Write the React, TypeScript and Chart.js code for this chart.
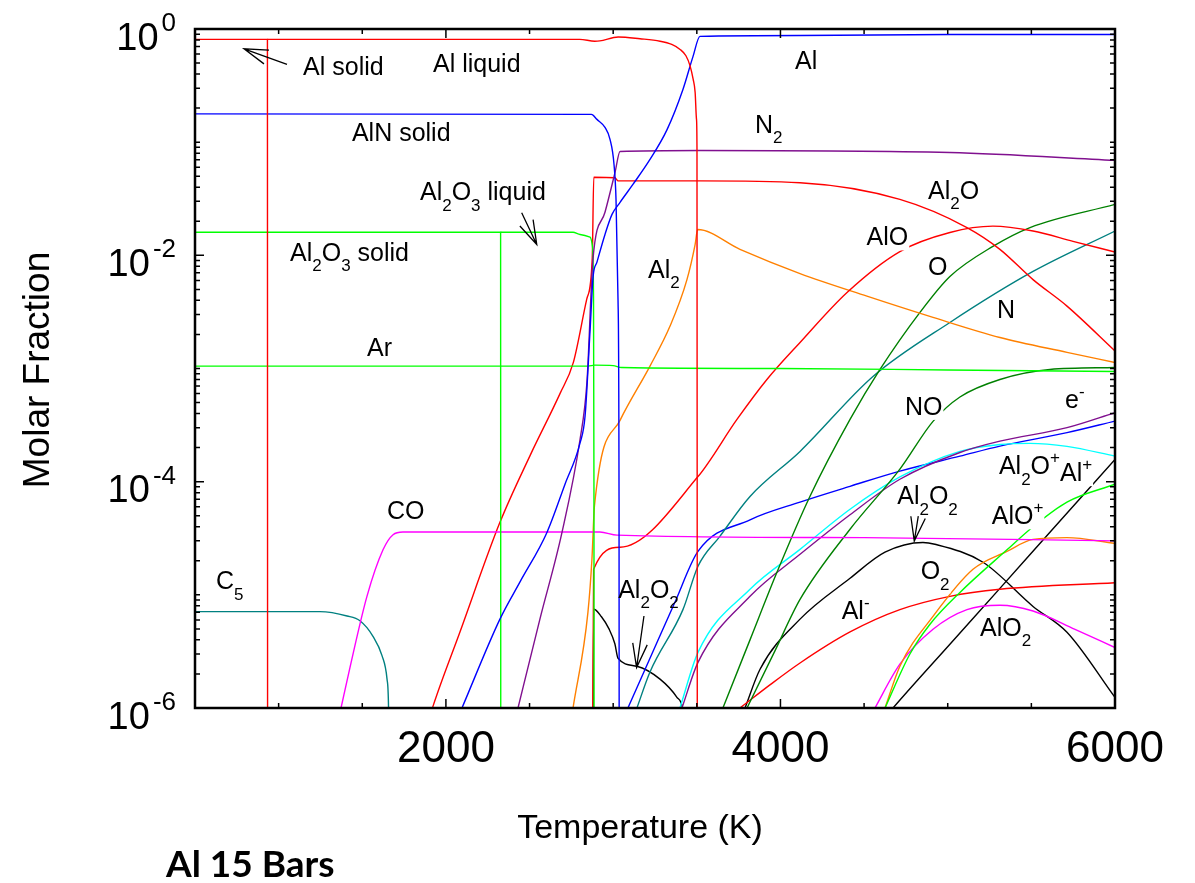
import React, { useEffect, useRef } from 'react';
import { Chart, registerables } from 'chart.js';

Chart.register(...registerables);

type Pt = [number, number];

// ---------- axes ----------
const X_MIN = 500;
const X_MAX = 6000;
const Y_MIN = 1e-6;
const Y_MAX = 1;
const X_TICKS = [500, 1000, 1500, 2000, 2500, 3000, 3500, 4000, 4500, 5000, 5500, 6000];
const X_TICK_LABELS = [2000, 4000, 6000];
const Y_DECADES = [-6, -5, -4, -3, -2, -1, 0];
const Y_TICK_LABEL_EXPONENTS = [0, -2, -4, -6];

// ---------- colours ----------
const RED = '#ff0000';
const BLUE = '#0000ff';
const GREEN = '#00ff00';
const PURPLE = '#80108f';
const DKGREEN = '#008000';
const TEAL = '#008080';
const ORANGE = '#ff8000';
const MAGENTA = '#ff00ff';
const CYAN = '#00ffff';
const BLACK = '#000000';

// ---------- data (Temperature K, molar fraction) ----------
const AL_SOLID: Pt[] = [[500, 0.81], [933, 0.81], [934, 1e-7]];
const AL_LIQUID: Pt[] = [[933, 0.81], [2800, 0.81], [2890, 0.78], [2920, 0.785], [3030, 0.85], [3160, 0.82], [3280, 0.78], [3350, 0.73], [3400, 0.66], [3435, 0.58], [3460, 0.47], [3478, 0.36], [3490, 0.275], [3498, 0.16], [3501, 0.086], [3503, 1e-7]];
const ALN_SOLID: Pt[] = [[500, 0.178], [2870, 0.176], [2903, 0.159], [2951, 0.135], [2981, 0.106], [3005, 0.0635], [3017, 0.031], [3029, 4e-3], [3035, 7e-5], [3036, 1e-7]];
const AL_GAS: Pt[] = [[2060, 7.5e-7], [2096, 1e-6], [2323, 6.1e-6], [2443, 1.3e-5], [2604, 3.56e-5], [2712, 9.5e-5], [2802, 2.2e-4], [2832, 3.8e-4], [2862, 2.2e-3], [2880, 6.5e-3], [2903, 8.7e-3], [2951, 0.0153], [2993, 0.023], [3041, 0.0294], [3118, 0.0423], [3220, 0.0703], [3322, 0.129], [3417, 0.292], [3477, 0.57], [3519, 0.86], [4117, 0.876], [5013, 0.894], [6000, 0.894]];
const N2: Pt[] = [[2400, 6.5e-7], [2431, 1e-6], [2562, 6.1e-6], [2694, 3.56e-5], [2802, 2.37e-4], [2843, 7.5e-4], [2879, 9.2e-3], [2951, 0.024], [3011, 0.054], [3041, 0.0828], [3519, 0.0845], [5013, 0.081], [6000, 0.069]];
const AL2O3_SOLID: Pt[] = [[500, 0.016], [2327, 0.016], [2328, 1e-7]];
const AL2O3_LIQUID: Pt[] = [[2327, 0.016], [2760, 0.016], [2802, 0.0153], [2862, 0.0145], [2876, 0.012], [2882, 5e-3], [2885, 1e-4], [2886, 1e-7]];
const AR: Pt[] = [[500, 1.05e-3], [2850, 1.05e-3], [2890, 1.07e-3], [3000, 1.06e-3], [3050, 1.02e-3], [4000, 1.0e-3], [5000, 0.97e-3], [6000, 0.94e-3]];
const CO: Pt[] = [[1340, 6e-7], [1373, 1e-6], [1427, 2.3e-6], [1528, 9.7e-6], [1624, 2.5e-5], [1684, 3.4e-5], [1743, 3.59e-5], [2921, 3.59e-5], [3023, 3.37e-5], [4500, 3.2e-5], [6000, 3.0e-5]];
const C5: Pt[] = [[500, 7.1e-6], [1247, 7.1e-6], [1409, 6.5e-6], [1486, 5.9e-6], [1564, 4.3e-6], [1618, 2.9e-6], [1648, 1.8e-6], [1657, 1.01e-6], [1663, 1e-7]];
const AL2O: Pt[] = [[1900, 8e-7], [1924, 1.05e-6], [2084, 4.7e-6], [2323, 4.37e-5], [2503, 1.7e-4], [2682, 6.0e-4], [2761, 1.12e-3], [2842, 4.1e-3], [2875, 9.5e-3], [2884, 0.049], [3010, 0.0485], [3030, 0.0455], [3519, 0.0455], [4117, 0.0438], [4714, 0.0312], [5115, 0.0176], [5312, 0.0113], [5510, 6.1e-3], [5713, 3.56e-3], [6000, 1.43e-3]];
const ALO: Pt[] = [[2875, 1e-7], [2883, 1.68e-5], [3041, 2.63e-5], [3507, 1.11e-4], [3740, 3.55e-4], [3919, 8.0e-4], [4117, 1.7e-3], [4398, 4.7e-3], [4714, 0.0108], [5013, 0.0159], [5270, 0.0181], [5510, 0.0164], [5749, 0.0133], [6000, 0.0107]];
const AL2: Pt[] = [[2750, 8e-7], [2760, 1e-6], [2849, 7e-6], [2873, 2.06e-5], [2888, 6.1e-5], [3041, 3.48e-4], [3220, 1.05e-3], [3340, 2.37e-3], [3441, 6.1e-3], [3490, 0.0125], [3505, 0.0169], [3758, 0.0113], [4117, 6.9e-3], [4517, 4.36e-3], [4912, 2.83e-3], [5312, 1.88e-3], [5713, 1.39e-3], [6000, 1.13e-3]];
const O: Pt[] = [[3640, 8.7e-7], [3656, 1e-6], [3818, 4.0e-6], [3979, 1.58e-5], [4176, 7.4e-5], [4416, 3.55e-4], [4595, 9.8e-4], [4834, 3.13e-3], [5013, 6.5e-3], [5270, 0.012], [5492, 0.0176], [6000, 0.0282]];
const NO: Pt[] = [[3780, 8.7e-7], [3800, 1e-6], [3967, 3.2e-6], [4117, 9.1e-6], [4416, 3.8e-5], [4714, 1.29e-4], [4912, 3.41e-4], [5073, 5.6e-4], [5312, 8.0e-4], [5611, 9.8e-4], [6000, 1.02e-3]];
const N: Pt[] = [[3120, 8.1e-7], [3142, 1e-6], [3220, 2.08e-6], [3417, 7.4e-6], [3507, 1.79e-5], [3638, 3.29e-5], [3818, 7.4e-5], [4117, 1.85e-4], [4553, 8.5e-4], [5013, 2.55e-3], [5510, 7.2e-3], [6000, 0.0164]];
const E_MINUS: Pt[] = [[3400, 9e-7], [3411, 1e-6], [3507, 2.53e-6], [3818, 9.7e-6], [4117, 2.28e-5], [4416, 5.1e-5], [4714, 1.05e-4], [5073, 1.81e-4], [5312, 2.28e-4], [5713, 3.0e-4], [6000, 4.07e-4]];
const AL2O_PLUS: Pt[] = [[3390, 9.1e-7], [3399, 1e-6], [3507, 3.1e-6], [3818, 1.12e-5], [4117, 2.52e-5], [4416, 5.7e-5], [4714, 1.1e-4], [5073, 1.85e-4], [5312, 2.13e-4], [5492, 2.18e-4], [5713, 2.05e-4], [6000, 1.68e-4]];
const BLUE_ION: Pt[] = [[3070, 8.7e-7], [3088, 1e-6], [3220, 2.75e-6], [3369, 8.6e-6], [3507, 2.42e-5], [3818, 4.6e-5], [4117, 6.6e-5], [4416, 9.1e-5], [4714, 1.24e-4], [5073, 1.68e-4], [5312, 2.06e-4], [5713, 2.71e-4], [6000, 3.43e-4]];
const ALO_PLUS: Pt[] = [[4600, 8.3e-7], [4625, 1e-6], [4774, 3.0e-6], [4894, 5.5e-6], [5073, 1.05e-5], [5354, 2.5e-5], [5510, 4.0e-5], [5713, 6.6e-5], [6000, 9.5e-5]];
const O2: Pt[] = [[4610, 8.7e-7], [4625, 1e-6], [4714, 2.34e-6], [4912, 6.45e-6], [5151, 1.68e-5], [5354, 2.42e-5], [5510, 3.09e-5], [5713, 3.2e-5], [6000, 2.85e-5]];
const ALO2: Pt[] = [[4550, 9.1e-7], [4565, 1e-6], [4714, 2.44e-6], [4912, 4.96e-6], [5115, 7.4e-6], [5312, 8.1e-6], [5510, 7.2e-6], [5761, 4.96e-6], [6000, 3.42e-6]];
const AL_MINUS: Pt[] = [[3730, 9.3e-7], [3758, 1e-6], [3937, 1.6e-6], [4117, 2.5e-6], [4416, 4.7e-6], [4714, 7.4e-6], [5013, 9.7e-6], [5312, 1.12e-5], [6000, 1.28e-5]];
const AL_PLUS: Pt[] = [[4650, 9.1e-7], [4673, 1e-6], [5013, 3.66e-6], [5312, 1.14e-5], [5671, 4.5e-5], [6000, 1.57e-4]];
const AL2O2_LOW: Pt[] = [[2879, 1e-7], [2883, 7.5e-6], [2930, 6.4e-6], [2975, 5.0e-6], [3010, 3.7e-6], [3029, 2.75e-6], [3142, 2.34e-6], [3280, 1.8e-6], [3380, 1.25e-6], [3415, 1e-6], [3440, 5e-7]];
const AL2O2_HIGH: Pt[] = [[3760, 7.8e-7], [3788, 1e-6], [3878, 2.2e-6], [4117, 6.1e-6], [4416, 1.4e-5], [4625, 2.38e-5], [4852, 2.9e-5], [4923, 2.8e-5], [5211, 1.94e-5], [5510, 7.9e-6], [5713, 4.67e-6], [6000, 1.24e-6]];

const SERIES: { name: string; color: string; data: Pt[] }[] = [
  { name: 'Al solid', color: RED, data: AL_SOLID },
  { name: 'Al liquid', color: RED, data: AL_LIQUID },
  { name: 'AlN solid', color: BLUE, data: ALN_SOLID },
  { name: 'Al', color: BLUE, data: AL_GAS },
  { name: 'N2', color: PURPLE, data: N2 },
  { name: 'Al2O3 solid', color: GREEN, data: AL2O3_SOLID },
  { name: 'Al2O3 liquid', color: GREEN, data: AL2O3_LIQUID },
  { name: 'Ar', color: GREEN, data: AR },
  { name: 'CO', color: MAGENTA, data: CO },
  { name: 'C5', color: TEAL, data: C5 },
  { name: 'Al2O', color: RED, data: AL2O },
  { name: 'AlO', color: RED, data: ALO },
  { name: 'Al2', color: ORANGE, data: AL2 },
  { name: 'O', color: DKGREEN, data: O },
  { name: 'NO', color: DKGREEN, data: NO },
  { name: 'N', color: TEAL, data: N },
  { name: 'e-', color: PURPLE, data: E_MINUS },
  { name: 'Al2O+', color: CYAN, data: AL2O_PLUS },
  { name: 'ion', color: BLUE, data: BLUE_ION },
  { name: 'AlO+', color: GREEN, data: ALO_PLUS },
  { name: 'O2', color: ORANGE, data: O2 },
  { name: 'AlO2', color: MAGENTA, data: ALO2 },
  { name: 'Al-', color: RED, data: AL_MINUS },
  { name: 'Al+', color: BLACK, data: AL_PLUS },
  { name: 'Al2O2 a', color: BLACK, data: AL2O2_LOW },
  { name: 'Al2O2 b', color: BLACK, data: AL2O2_HIGH },
];

// ---------- annotations ----------
type Part = [string, 'n' | 'b' | 'p'];
const LABELS: { parts: Part[]; T: number; v: number; bg?: boolean }[] = [
  { parts: [['Al solid', 'n']], T: 1146, v: 0.396 },
  { parts: [['Al liquid', 'n']], T: 1923, v: 0.413 },
  { parts: [['AlN solid', 'n']], T: 1438, v: 0.102 },
  { parts: [['Al', 'n'], ['2', 'b'], ['O', 'n'], ['3', 'b'], [' liquid', 'n']], T: 1845, v: 0.0307 },
  { parts: [['Al', 'n'], ['2', 'b'], ['O', 'n'], ['3', 'b'], [' solid', 'n']], T: 1068, v: 9.0e-3 },
  { parts: [['Ar', 'n']], T: 1528, v: 1.28e-3 },
  { parts: [['CO', 'n']], T: 1648, v: 4.65e-5 },
  { parts: [['C', 'n'], ['5', 'b']], T: 625, v: 1.12e-5 },
  { parts: [['Al', 'n']], T: 4087, v: 0.439 },
  { parts: [['N', 'n'], ['2', 'b']], T: 3848, v: 0.121 },
  { parts: [['Al', 'n'], ['2', 'b'], ['O', 'n']], T: 4882, v: 0.0316 },
  { parts: [['AlO', 'n']], T: 4515, v: 0.01223, bg: true },
  { parts: [['O', 'n']], T: 4882, v: 6.64e-3 },
  { parts: [['N', 'n']], T: 5294, v: 2.81e-3 },
  { parts: [['NO', 'n']], T: 4744, v: 3.89e-4, bg: true },
  { parts: [['e', 'n'], ['-', 'p']], T: 5701, v: 4.5e-4 },
  { parts: [['Al', 'n'], ['2', 'b'], ['O', 'n'], ['+', 'p']], T: 5306, v: 1.16e-4, bg: true },
  { parts: [['Al', 'n'], ['+', 'p']], T: 5671, v: 1.01e-4, bg: true },
  { parts: [['AlO', 'n'], ['+', 'p']], T: 5263, v: 4.2e-5, bg: true },
  { parts: [['Al', 'n'], ['2', 'b'], ['O', 'n'], ['2', 'b']], T: 4698, v: 6.3e-5, bg: true },
  { parts: [['O', 'n'], ['2', 'b']], T: 4838, v: 1.37e-5, bg: true },
  { parts: [['Al', 'n'], ['-', 'p']], T: 4366, v: 6.08e-6 },
  { parts: [['AlO', 'n'], ['2', 'b']], T: 5193, v: 4.33e-6 },
  { parts: [['Al', 'n'], ['2', 'b']], T: 3208, v: 6.34e-3 },
  { parts: [['Al', 'n'], ['2', 'b'], ['O', 'n'], ['2', 'b']], T: 3030, v: 9.44e-6 },
];

const ARROWS: { from: Pt; to: Pt }[] = [
  { from: [1050, 0.486], to: [793, 0.668] },
  { from: [2453, 0.0238], to: [2543, 0.01248] },
  { from: [3184, 6.5e-6], to: [3140, 2.28e-6] },
  { from: [4824, 4.97e-5], to: [4800, 2.99e-5] },
];

const FONT = '"Liberation Sans", Arial, Helvetica, sans-serif';
const LABEL_PX = 25;
const SMALL_PX = 17;

const framePlugin = {
  id: 'frame',
  afterDraw(chart: any) {
    const { ctx, chartArea, scales } = chart;
    const { left, top, right, bottom } = chartArea;
    const xs = scales.x;
    const ys = scales.y;
    ctx.save();
    ctx.fillStyle = '#000';
    ctx.strokeStyle = '#000';
    ctx.textBaseline = 'alphabetic';

    // label layout
    const layout = LABELS.map((l) => {
      let x = xs.getPixelForValue(l.T);
      const y = ys.getPixelForValue(l.v);
      const x0 = x;
      const items: { t: string; x: number; y: number; f: string }[] = [];
      let hasSub = false;
      let hasSup = false;
      for (const [t, k] of l.parts) {
        const f = `${k === 'n' ? LABEL_PX : SMALL_PX}px ${FONT}`;
        ctx.font = f;
        const dy = k === 'b' ? 10.5 : k === 'p' ? -11 : 0;
        if (k === 'b') hasSub = true;
        if (k === 'p') hasSup = true;
        items.push({ t, x, y: y + dy, f });
        x += ctx.measureText(t).width;
      }
      return { items, x0, x1: x, y, hasSub, hasSup, bg: !!l.bg };
    });
    ctx.fillStyle = '#fff';
    for (const L of layout) {
      if (!L.bg) continue;
      const t = L.y - (L.hasSup ? 26 : 20);
      const b = L.y + (L.hasSub ? 14 : 5);
      ctx.fillRect(L.x0 - 1, t, L.x1 - L.x0 + 2, b - t);
    }
    ctx.fillStyle = '#000';
    ctx.textAlign = 'left';
    for (const L of layout) {
      for (const it of L.items) {
        ctx.font = it.f;
        ctx.fillText(it.t, it.x, it.y);
      }
    }

    // arrows
    ctx.lineWidth = 1.3;
    for (const a of ARROWS) {
      const x1 = xs.getPixelForValue(a.from[0]);
      const y1 = ys.getPixelForValue(a.from[1]);
      const x2 = xs.getPixelForValue(a.to[0]);
      const y2 = ys.getPixelForValue(a.to[1]);
      const ang = Math.atan2(y1 - y2, x1 - x2);
      const len = 25;
      const h = (17 * Math.PI) / 180;
      ctx.beginPath();
      ctx.moveTo(x1, y1);
      ctx.lineTo(x2, y2);
      ctx.moveTo(x2 + len * Math.cos(ang - h), y2 + len * Math.sin(ang - h));
      ctx.lineTo(x2, y2);
      ctx.lineTo(x2 + len * Math.cos(ang + h), y2 + len * Math.sin(ang + h));
      ctx.stroke();
    }

    // ticks
    ctx.lineWidth = 1.5;
    ctx.beginPath();
    for (const t of X_TICKS) {
      const px = xs.getPixelForValue(t);
      const len = t % 2000 === 0 ? 9 : 5;
      ctx.moveTo(px, bottom);
      ctx.lineTo(px, bottom - len);
      ctx.moveTo(px, top);
      ctx.lineTo(px, top + len);
    }
    for (const d of Y_DECADES) {
      for (let m = 1; m < 10; m++) {
        const v = m * Math.pow(10, d);
        if (v > Y_MAX * 1.0001) break;
        const py = ys.getPixelForValue(v);
        const len = m === 1 && d % 2 === 0 ? 9 : 5;
        ctx.moveTo(left, py);
        ctx.lineTo(left + len, py);
        ctx.moveTo(right, py);
        ctx.lineTo(right - len, py);
      }
    }
    ctx.stroke();

    // frame
    ctx.lineWidth = 2.5;
    ctx.strokeRect(left, top, right - left, bottom - top);

    // x tick labels
    ctx.font = `44px ${FONT}`;
    ctx.textAlign = 'center';
    for (const t of X_TICK_LABELS) {
      ctx.fillText(String(t), xs.getPixelForValue(t), bottom + 54);
    }

    // y tick labels 10^n
    for (const e of Y_TICK_LABEL_EXPONENTS) {
      const py = ys.getPixelForValue(Math.pow(10, e));
      const ex = left - 19;
      ctx.textAlign = 'right';
      ctx.font = `26px ${FONT}`;
      const et = String(e);
      ctx.fillText(et, ex, py + 2);
      const w = ctx.measureText(et).width;
      ctx.font = `38px ${FONT}`;
      ctx.fillText('10', ex - w - 3, py + 20.5);
    }

    // axis titles
    ctx.font = `34px ${FONT}`;
    ctx.textAlign = 'center';
    ctx.fillText('Temperature (K)', 640, 838);
    ctx.save();
    ctx.translate(49, 370);
    ctx.rotate(-Math.PI / 2);
    ctx.font = `37px ${FONT}`;
    ctx.fillText('Molar Fraction', 0, 0);
    ctx.restore();

    // caption
    ctx.font = `bold 37px Lato, "Open Sans", "Noto Sans", sans-serif`;
    ctx.textAlign = 'left';
    ctx.fillText('Al 15 Bars', 166, 877);

    ctx.restore();
  },
};

export default function App() {
  const ref = useRef<HTMLCanvasElement>(null);
  useEffect(() => {
    const canvas = ref.current;
    if (!canvas) return;
    const chart = new Chart(canvas, {
      type: 'scatter',
      data: {
        datasets: SERIES.map((s) => ({
          label: s.name,
          data: s.data.map(([x, y]) => ({ x, y })),
          borderColor: s.color,
          backgroundColor: s.color,
          borderWidth: 1.4,
          pointRadius: 0,
          pointHoverRadius: 0,
          showLine: true,
          fill: false,
          cubicInterpolationMode: 'monotone' as const,
        })),
      },
      options: {
        animation: false,
        responsive: true,
        maintainAspectRatio: false,
        events: [],
        layout: { padding: { left: 195, top: 29, right: 80, bottom: 175 } },
        plugins: { legend: { display: false }, tooltip: { enabled: false } },
        scales: {
          x: { type: 'linear', min: X_MIN, max: X_MAX, display: false },
          y: { type: 'logarithmic', min: Y_MIN, max: Y_MAX, display: false },
        },
      },
      plugins: [framePlugin],
    });
    return () => chart.destroy();
  }, []);
  return (
    <div style={{ position: 'absolute', left: 0, top: 0, width: 1195, height: 883, background: '#fff' }}>
      <canvas ref={ref} />
    </div>
  );
}
